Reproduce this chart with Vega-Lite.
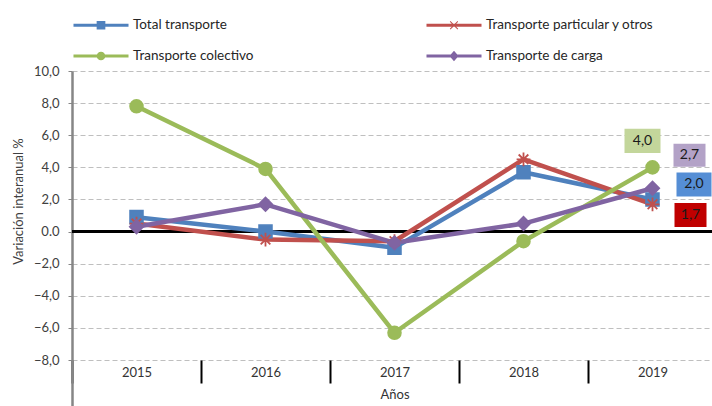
{
  "$schema": "https://vega.github.io/schema/vega-lite/v6.json",
  "autosize": {"type": "none"},
  "width": 640,
  "height": 335,
  "padding": {"left": 72, "top": 71, "right": 0, "bottom": 0},
  "background": "white",
  "config": {
    "locale": {"number": {"decimal": ",", "thousands": ".", "grouping": [3], "currency": ["", " €"]}},
    "view": {"stroke": null},
    "font": "Lato"
  },
  "data": {
    "values": [
      {"year": "2015", "series": "Total transporte", "value": 0.9},
      {"year": "2016", "series": "Total transporte", "value": 0.0},
      {"year": "2017", "series": "Total transporte", "value": -1.0},
      {"year": "2018", "series": "Total transporte", "value": 3.7},
      {"year": "2019", "series": "Total transporte", "value": 2.0},
      {"year": "2015", "series": "Transporte particular y otros", "value": 0.5},
      {"year": "2016", "series": "Transporte particular y otros", "value": -0.5},
      {"year": "2017", "series": "Transporte particular y otros", "value": -0.6},
      {"year": "2018", "series": "Transporte particular y otros", "value": 4.5},
      {"year": "2019", "series": "Transporte particular y otros", "value": 1.7},
      {"year": "2015", "series": "Transporte colectivo", "value": 7.8},
      {"year": "2016", "series": "Transporte colectivo", "value": 3.9},
      {"year": "2017", "series": "Transporte colectivo", "value": -6.3},
      {"year": "2018", "series": "Transporte colectivo", "value": -0.6},
      {"year": "2019", "series": "Transporte colectivo", "value": 4.0},
      {"year": "2015", "series": "Transporte de carga", "value": 0.3},
      {"year": "2016", "series": "Transporte de carga", "value": 1.7},
      {"year": "2017", "series": "Transporte de carga", "value": -0.7},
      {"year": "2018", "series": "Transporte de carga", "value": 0.5},
      {"year": "2019", "series": "Transporte de carga", "value": 2.7}
    ]
  },
  "encoding": {
    "x": {
      "field": "year", "type": "ordinal",
      "scale": {"range": [0, 645], "paddingInner": 0, "paddingOuter": 0},
      "axis": {
        "title": "Años", "orient": "bottom", "offset": -46, "domain": false,
        "tickBand": "extent", "ticks": true, "tickSize": 23, "tickWidth": 2, "tickColor": "#000000",
        "labelAngle": 0, "labelPadding": -17, "labelFontSize": 13, "labelColor": "#333333",
        "titleFontSize": 13, "titleFontWeight": "normal", "titleColor": "#333333", "titlePadding": 4,
        "grid": false
      }
    },
    "y": {
      "field": "value", "type": "quantitative",
      "scale": {"domain": [-10.86, 10], "nice": false, "zero": false},
      "axis": {
        "title": "Variación interanual %",
        "values": [-8, -6, -4, -2, 0, 2, 4, 6, 8, 10],
        "format": ".1f",
        "labelExpr": "datum.value == 0 ? '0.0' : datum.label",
        "grid": true, "gridColor": "#bfbfbf", "gridDash": [5, 3], "gridWidth": 1.2,
        "domainColor": "#868686", "domainWidth": 2.5,
        "tickColor": "#868686", "tickSize": 4, "tickWidth": 1,
        "labelFontSize": 13, "labelColor": "#404040", "labelPadding": 9,
        "titleFontSize": 13, "titleFontWeight": "normal", "titleColor": "#404040",
        "titleX": -54, "titleY": 130, "titleBaseline": "middle", "titleAngle": -90
      }
    }
  },
  "layer": [
    {
      "mark": {"type": "rule", "color": "#000000", "strokeWidth": 2},
      "encoding": {"x": null, "y": {"datum": 0, "type": "quantitative"}}
    },
    {
      "mark": {"type": "line", "strokeWidth": 4.5, "strokeJoin": "round"},
      "encoding": {
        "color": {
          "field": "series", "type": "nominal",
          "scale": {
            "domain": ["Total transporte", "Transporte particular y otros", "Transporte colectivo", "Transporte de carga"],
            "range": ["#4f81bd", "#c0504d", "#9bbb59", "#8064a2"]
          },
          "legend": {
            "title": null, "orient": "none", "legendX": 22, "legendY": -53,
            "direction": "horizontal", "columns": 2, "columnPadding": 172, "rowPadding": 17,
            "symbolSize": 196, "labelOffset": 25, "labelFontSize": 13.5, "labelFont": "Lato",
            "labelColor": "#262626", "labelLimit": 300,
            "encode": {
              "symbols": {
                "update": {
                  "shape": {"signal": "datum.value == 'Total transporte' ? 'M-3.93,-0.22H3.93V0.22H-3.93Z M-0.62,-0.62H0.62V0.62H-0.62Z' : datum.value == 'Transporte particular y otros' ? 'M-3.93,-0.22H3.93V0.22H-3.93Z M-0.5,-0.6L0,-0.1L0.5,-0.6L0.6,-0.5L0.1,0L0.6,0.5L0.5,0.6L0,0.1L-0.5,0.6L-0.6,0.5L-0.1,0L-0.6,-0.5Z' : datum.value == 'Transporte colectivo' ? 'M-3.93,-0.22H3.93V0.22H-3.93Z M-0.62,0A0.62,0.62 0 1,1 0.62,0A0.62,0.62 0 1,1 -0.62,0Z' : 'M-3.93,-0.22H3.93V0.22H-3.93Z M0,-0.75L0.65,0L0,0.75L-0.65,0Z'"},
                  "fill": {"signal": "scale('color', datum.value)"},
                  "stroke": {"value": "transparent"},
                  "strokeWidth": {"value": 0},
                  "opacity": {"value": 1},
                  "fillOpacity": {"value": 1}
                }
              }
            }
          }
        }
      }
    },
    {
      "transform": [{"filter": "datum.series == 'Total transporte'"}],
      "mark": {"type": "point", "shape": "square", "filled": true, "color": "#4f81bd", "stroke": "#4f81bd", "strokeWidth": 1.5, "opacity": 1, "size": 170}
    },
    {
      "transform": [{"filter": "datum.series == 'Transporte particular y otros'"}],
      "mark": {"type": "point", "shape": "M-1,0H1M0,-1V1M-0.7,-0.7L0.7,0.7M-0.7,0.7L0.7,-0.7", "filled": false, "color": "#c0504d", "strokeWidth": 1.8, "opacity": 1, "size": 190}
    },
    {
      "transform": [{"filter": "datum.series == 'Transporte colectivo'"}],
      "mark": {"type": "point", "shape": "circle", "filled": true, "color": "#9bbb59", "stroke": "#9bbb59", "strokeWidth": 1.5, "opacity": 1, "size": 170}
    },
    {
      "transform": [{"filter": "datum.series == 'Transporte de carga'"}],
      "mark": {"type": "point", "shape": "diamond", "filled": true, "color": "#8064a2", "stroke": "#8064a2", "strokeWidth": 1.5, "opacity": 1, "size": 190}
    },
    {
      "transform": [{"filter": "datum.year == '2019' && datum.series == 'Transporte colectivo'"}],
      "mark": {"type": "point", "shape": "M-1,-0.67H1V0.67H-1Z", "size": 1296, "filled": true, "color": "#c3d69b", "opacity": 1, "xOffset": -10, "yOffset": -26.5}
    },
    {
      "transform": [{"filter": "datum.year == '2019' && datum.series == 'Transporte colectivo'"}],
      "mark": {"type": "text", "fontSize": 14, "color": "#1a1a1a", "xOffset": -10, "yOffset": -26.5, "baseline": "middle", "align": "center"},
      "encoding": {"text": {"field": "value", "type": "quantitative", "format": ".1f"}}
    },
    {
      "transform": [{"filter": "datum.year == '2019' && datum.series == 'Transporte de carga'"}],
      "mark": {"type": "point", "shape": "M-1,-0.72H1V0.72H-1Z", "size": 1024, "filled": true, "color": "#b3a2c7", "opacity": 1, "xOffset": 37, "yOffset": -33}
    },
    {
      "transform": [{"filter": "datum.year == '2019' && datum.series == 'Transporte de carga'"}],
      "mark": {"type": "text", "fontSize": 14, "color": "#1a1a1a", "xOffset": 37, "yOffset": -33, "baseline": "middle", "align": "center"},
      "encoding": {"text": {"field": "value", "type": "quantitative", "format": ".1f"}}
    },
    {
      "transform": [{"filter": "datum.year == '2019' && datum.series == 'Total transporte'"}],
      "mark": {"type": "point", "shape": "M-1,-0.69H1V0.69H-1Z", "size": 1225, "filled": true, "color": "#558ed5", "opacity": 1, "xOffset": 41.5, "yOffset": -15}
    },
    {
      "transform": [{"filter": "datum.year == '2019' && datum.series == 'Total transporte'"}],
      "mark": {"type": "text", "fontSize": 14, "color": "#1a1a1a", "xOffset": 41.5, "yOffset": -15, "baseline": "middle", "align": "center"},
      "encoding": {"text": {"field": "value", "type": "quantitative", "format": ".1f"}}
    },
    {
      "transform": [{"filter": "datum.year == '2019' && datum.series == 'Transporte particular y otros'"}],
      "mark": {"type": "point", "shape": "M-1,-0.75H1V0.75H-1Z", "size": 1024, "filled": true, "color": "#c00000", "opacity": 1, "xOffset": 38, "yOffset": 10.6}
    },
    {
      "transform": [{"filter": "datum.year == '2019' && datum.series == 'Transporte particular y otros'"}],
      "mark": {"type": "text", "fontSize": 14, "color": "#1a1a1a", "xOffset": 38, "yOffset": 10.6, "baseline": "middle", "align": "center"},
      "encoding": {"text": {"field": "value", "type": "quantitative", "format": ".1f"}}
    }
  ]
}
